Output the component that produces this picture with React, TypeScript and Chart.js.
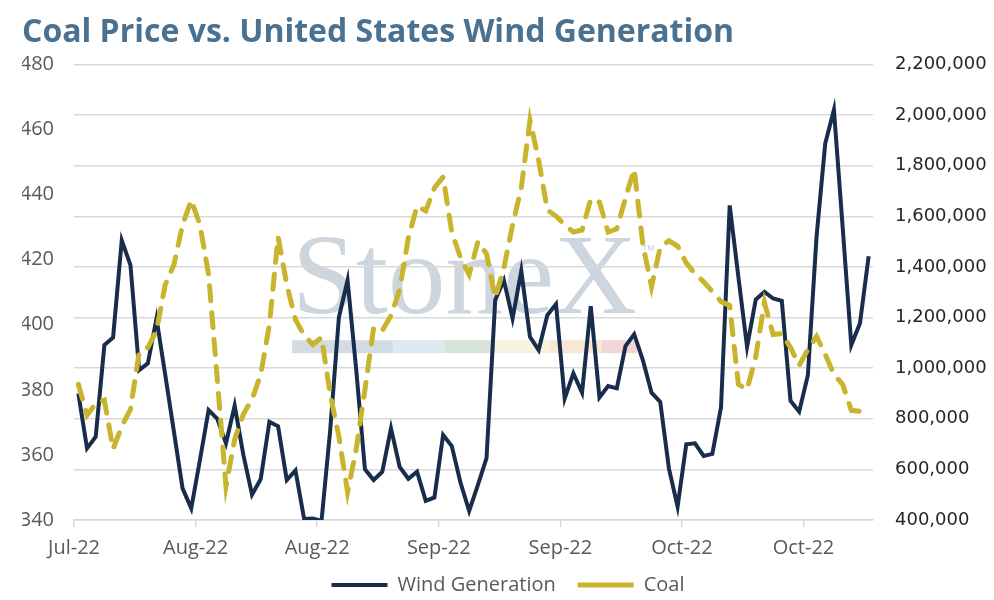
import { useEffect, useRef } from 'react';
import { Chart, registerables } from 'chart.js';

Chart.register(...registerables);

// x axis: one label every 14 observations
const tickLabels = ['Jul-22', 'Aug-22', 'Aug-22', 'Sep-22', 'Sep-22', 'Oct-22', 'Oct-22'];
const ticksEvery = 14;

// US wind generation (right axis)
const windGeneration = [
  900000, 683000, 729000, 1091000, 1121000, 1505000, 1407000, 992000, 1019000, 1196000,
  975000, 750000, 525000, 446000, 637000, 834000, 800000, 703000, 852000, 657000,
  500000, 562000, 788000, 770000, 558000, 596000, 404000, 406000, 396000, 755000,
  1201000, 1347000, 992000, 601000, 558000, 591000, 762000, 610000, 563000, 591000,
  476000, 489000, 736000, 692000, 548000, 436000, 538000, 644000, 1268000, 1347000,
  1196000, 1384000, 1124000, 1071000, 1209000, 1253000, 880000, 979000, 903000, 1245000,
  884000, 929000, 920000, 1087000, 1134000, 1032000, 903000, 867000, 604000, 453000,
  699000, 703000, 653000, 661000, 845000, 1643000, 1360000, 1084000, 1271000, 1301000,
  1275000, 1266000, 871000, 828000, 972000, 1520000, 1887000, 2021000, 1560000, 1091000,
  1177000, 1442000,
];

// coal price (left axis)
const coalPrice = [
  381.7, 372.2, 375.8, 376.8, 361.8, 368.8, 374.0, 391.5, 393.0, 398.2,
  412.3, 418.4, 430.7, 438.3, 430.7, 415.4, 383.2, 350.4, 364.8, 372.5,
  377.1, 384.7, 400.0, 427.0, 412.3, 401.6, 396.7, 393.9, 396.1, 378.6,
  365.7, 348.6, 361.8, 380.1, 399.1, 398.2, 402.8, 410.8, 426.7, 436.5,
  435.0, 442.0, 445.4, 428.5, 420.6, 415.4, 425.5, 421.8, 408.3, 417.5,
  430.7, 442.0, 462.8, 450.6, 435.3, 433.4, 430.7, 428.5, 429.1, 438.6,
  437.7, 428.5, 429.5, 438.9, 447.8, 424.6, 411.7, 423.9, 425.8, 424.2,
  419.0, 415.7, 413.2, 410.2, 407.1, 405.9, 381.7, 380.1, 390.2, 406.8,
  397.0, 397.3, 393.0, 387.5, 392.4, 396.4, 390.9, 384.7, 381.7, 373.7,
  373.4, 372.5,
];

const gridColor = '#d9d9d9';
const labelColor = '#595959';
const textFont = 'Open Sans';

// StoneX watermark behind the grid
const watermark = {
  id: 'watermark',
  beforeDraw(chart: Chart) {
    const { ctx, chartArea } = chart;
    const cx = (chartArea.left + chartArea.right) / 2 - 9;
    const base = (chartArea.top + chartArea.bottom) / 2 + 21;
    ctx.save();
    ctx.font = '115px "Liberation Serif"';
    ctx.fillStyle = '#cdd5de';
    ctx.textAlign = 'center';
    ctx.textBaseline = 'alphabetic';
    ctx.fillText('StoneX', cx, base);
    const w = ctx.measureText('StoneX').width;
    const left = cx - w / 2;
    ctx.font = '15px "Liberation Sans"';
    ctx.textAlign = 'left';
    ctx.fillText('™', left + w + 4, base - 58);
    const bar = [
      ['#d3dbe3', 98],
      ['#dde9f1', 50],
      ['#d5e3da', 49],
      ['#f6f3dc', 54],
      ['#f8e7d2', 50],
      ['#f1d5d8', 34],
    ] as const;
    const total = bar.reduce((s, b) => s + b[1], 0);
    let x = left;
    bar.forEach(([c, part]) => {
      const bw = (part / total) * w;
      ctx.fillStyle = c;
      ctx.fillRect(x, base + 27, bw, 13);
      x += bw;
    });
    ctx.restore();
  },
};

// label padding is also the gap between legend items; keep the box short
// with maxHeight and move it up to where the reference legend sits
const legendShift = {
  id: 'legendShift',
  afterLayout(chart: Chart) {
    const legend = chart.legend;
    if (!legend) return;
    legend.top -= 9;
    legend.bottom -= 9;
  },
};

const App = () => {
  const chartRef = useRef<HTMLCanvasElement | null>(null);

  useEffect(() => {
    if (!chartRef.current) return;

    const chart = new Chart(chartRef.current, {
      type: 'line',
      data: {
        datasets: [
          {
            label: 'Wind Generation',
            data: windGeneration.map((v, i) => ({ x: i, y: v })),
            yAxisID: 'yR',
            borderColor: '#172d4b',
            borderWidth: 4,
            pointRadius: 0,
            tension: 0,
            order: 1,
          },
          {
            label: 'Coal',
            data: coalPrice.map((v, i) => ({ x: i, y: v })),
            yAxisID: 'yL',
            borderColor: '#c9b42d',
            borderWidth: 5,
            borderDash: [15, 12],
            borderCapStyle: 'round',
            pointRadius: 0,
            tension: 0,
            order: 0,
          },
        ],
      },
      options: {
        animation: false,
        responsive: true,
        maintainAspectRatio: false,
        layout: { padding: { left: 22, right: 0, top: 0, bottom: 0 } },
        plugins: {
          title: {
            display: true,
            text: 'Coal Price vs. United States Wind Generation',
            align: 'start',
            color: '#4a7190',
            font: { family: textFont, size: 32, weight: 'bold' },
            padding: { top: 14, bottom: 12 },
          },
          legend: {
            position: 'bottom',
            maxHeight: 38,
            labels: {
              usePointStyle: true,
              pointStyle: 'line',
              pointStyleWidth: 56,
              color: labelColor,
              font: { family: textFont, size: 20 },
              padding: 22,
              sort: (a, b) => (a.datasetIndex ?? 0) - (b.datasetIndex ?? 0),
            },
          },
          tooltip: { enabled: false },
        },
        scales: {
          x: {
            type: 'linear',
            min: -0.5,
            max: windGeneration.length - 0.5,
            afterBuildTicks: (axis) => {
              axis.ticks = tickLabels.map((_, k) => ({ value: k * ticksEvery - 0.5 }));
            },
            afterFit: (axis) => {
              axis.height = 42;
            },
            ticks: {
              autoSkip: false,
              maxRotation: 0,
              color: labelColor,
              font: { family: textFont, size: 20 },
              padding: 9,
              callback: (_v, index) => tickLabels[index] ?? '',
            },
            grid: { drawOnChartArea: false, tickLength: 7, color: gridColor, lineWidth: 1.5 },
            border: { color: gridColor, width: 1.5 },
          },
          yL: {
            position: 'left',
            min: 340,
            max: 480,
            afterFit: (axis) => {
              axis.width = 52;
            },
            ticks: {
              stepSize: 20,
              color: labelColor,
              font: { family: textFont, size: 20 },
              padding: 20,
            },
            grid: { display: false, drawTicks: false },
            border: { display: false },
          },
          yR: {
            position: 'right',
            min: 400000,
            max: 2200000,
            afterFit: (axis) => {
              axis.width = 121;
            },
            ticks: {
              stepSize: 200000,
              color: '#262626',
              font: { family: 'DejaVu Sans', size: 18 },
              padding: 22,
              callback: (v) => Number(v).toLocaleString('en-US'),
            },
            grid: { color: gridColor, lineWidth: 1.5, drawTicks: false },
            border: { display: false },
          },
        },
      },
      plugins: [watermark, legendShift],
    });

    return () => {
      chart.destroy();
    };
  }, []);

  return (
    <div style={{ position: 'fixed', left: 0, top: 0, width: 994, height: 600, background: '#fff' }}>
      <canvas ref={chartRef}></canvas>
    </div>
  );
};

export default App;
